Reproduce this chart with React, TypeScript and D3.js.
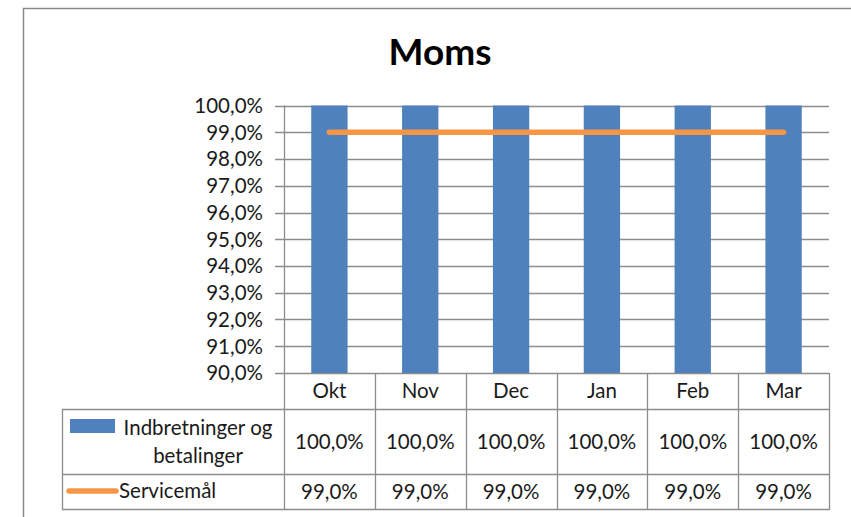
import React from "react";
import * as d3 from "d3";

const title = "Moms";
const categories = ["Okt", "Nov", "Dec", "Jan", "Feb", "Mar"];
const seriesBarName = ["Indbretninger og", "betalinger"];
const seriesBarValues = [1.0, 1.0, 1.0, 1.0, 1.0, 1.0];
const seriesLineName = "Servicemål";
const seriesLineValues = [0.99, 0.99, 0.99, 0.99, 0.99, 0.99];
const yTicks = [0.9, 0.91, 0.92, 0.93, 0.94, 0.95, 0.96, 0.97, 0.98, 0.99, 1.0];

const W = 851;
const H = 517;
const FONT = "Lato, 'Open Sans', sans-serif";
const BLUE = "#4F81BD";
const ORANGE = "#F79646";
const GRID = "#8c8c8c";
const TXT = "#1a1a1a";
const FS = 20.5;

const locale = d3.formatLocale({
  decimal: ",",
  thousands: ".",
  grouping: [3],
  currency: ["", " kr"],
});
const pct = locale.format(".1%");

export default function App() {
  const left = 284;
  const right = 829;
  const top = 105.5;
  const bottom = 373;
  const headerBottom = 409;
  const row1Bottom = 474;
  const tableBottom = 509;
  const tableLeft = 62;

  const x = d3.scaleBand<string>().domain(categories).range([left, right]).padding(0);
  const y = d3.scaleLinear().domain([0.9, 1.0]).range([bottom, top]);
  const bw = x.bandwidth();
  const barW = bw * 0.4;

  const line = d3
    .line<number>()
    .x((_, i) => (x(categories[i]) as number) + bw / 2)
    .y((d) => y(d));

  return (
    <svg
      width={W}
      height={H}
      style={{ position: "absolute", left: 0, top: 0, background: "#fff" }}
      fontFamily={FONT}
    >
      <rect x={0} y={0} width={W} height={H} fill="#fff" />
      {/* outer chart border */}
      <rect x={23.5} y={8.5} width={900} height={600} fill="none" stroke="#8a8a8a" strokeWidth={1.5} />

      <text x={440} y={65} textAnchor="middle" fontSize={37} fontWeight="bold" fill="#000">
        {title}
      </text>

      {/* gridlines + tick labels */}
      {yTicks.map((t) => (
        <g key={t}>
          <line x1={275} x2={right} y1={Math.round(y(t)) + 0.5} y2={Math.round(y(t)) + 0.5} stroke={GRID} strokeWidth={1.3} />
          <text x={263} y={y(t)} dy="0.36em" textAnchor="end" fontSize={FS} fill={TXT}>
            {pct(t)}
          </text>
        </g>
      ))}

      {/* bars */}
      {categories.map((c, i) => (
        <rect
          key={c}
          x={(x(c) as number) + (bw - barW) / 2}
          y={y(Math.min(seriesBarValues[i], 1.0))}
          width={barW}
          height={y(0.9) - y(Math.min(seriesBarValues[i], 1.0))}
          fill={BLUE}
        />
      ))}

      {/* line series */}
      <path
        d={line(seriesLineValues) || ""}
        fill="none"
        stroke={ORANGE}
        strokeWidth={5.5}
        strokeLinecap="round"
      />

      {/* y axis / table lines */}
      <line x1={left + 0.5} x2={left + 0.5} y1={top} y2={tableBottom} stroke={GRID} strokeWidth={1.3} />
      {categories.map((c) => (
        <line
          key={"v" + c}
          x1={Math.round((x(c) as number) + bw) + 0.5}
          x2={Math.round((x(c) as number) + bw) + 0.5}
          y1={bottom}
          y2={tableBottom}
          stroke={GRID}
          strokeWidth={1.3}
        />
      ))}
      <line x1={tableLeft + 0.5} x2={tableLeft + 0.5} y1={headerBottom} y2={tableBottom} stroke={GRID} strokeWidth={1.3} />
      {[headerBottom, row1Bottom, tableBottom].map((yy) => (
        <line key={"h" + yy} x1={tableLeft} x2={right + 1} y1={yy + 0.5} y2={yy + 0.5} stroke={GRID} strokeWidth={1.3} />
      ))}

      {/* header row */}
      {categories.map((c) => (
        <text key={"c" + c} x={(x(c) as number) + bw / 2} y={(bottom + headerBottom) / 2} dy="0.36em" textAnchor="middle" fontSize={FS} fill={TXT}>
          {c}
        </text>
      ))}

      {/* row 1 */}
      <rect x={70} y={419} width={45} height={14} fill={BLUE} />
      <text x={198} y={428} dy="0.36em" textAnchor="middle" fontSize={FS} fill={TXT}>
        <tspan x={198}>{seriesBarName[0]}</tspan>
        <tspan x={198} dy={28}>{seriesBarName[1]}</tspan>
      </text>
      {categories.map((c, i) => (
        <text key={"r1" + c} x={(x(c) as number) + bw / 2} y={(headerBottom + row1Bottom) / 2} dy="0.36em" textAnchor="middle" fontSize={FS} fill={TXT}>
          {pct(seriesBarValues[i])}
        </text>
      ))}

      {/* row 2 */}
      <line x1={69} x2={116} y1={491} y2={491} stroke={ORANGE} strokeWidth={5.5} strokeLinecap="round" />
      <text x={119} y={491} dy="0.36em" textAnchor="start" fontSize={FS} fill={TXT}>
        {seriesLineName}
      </text>
      {categories.map((c, i) => (
        <text key={"r2" + c} x={(x(c) as number) + bw / 2} y={(row1Bottom + tableBottom) / 2} dy="0.36em" textAnchor="middle" fontSize={FS} fill={TXT}>
          {pct(seriesLineValues[i])}
        </text>
      ))}
    </svg>
  );
}
